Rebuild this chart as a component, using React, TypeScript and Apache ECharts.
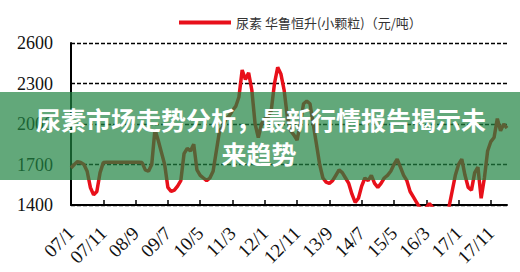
import React, { useEffect, useRef } from "react";
import * as echarts from "echarts";

const startYear = 2007;
const startMonth = 1;
const tickLabels = ["07/1", "07/11", "08/9", "09/7", "10/5", "11/3", "12/1", "12/11", "13/9", "14/7", "15/5", "16/3", "17/1", "17/11"];
const yTicks = [1400, 1700, 2000, 2300, 2600];
const seriesName = "尿素 华鲁恒升(小颗粒)（元/吨）";
const titleLine1 = "尿素市场走势分析，最新行情报告揭示未";
const titleLine2 = "来趋势";

// monthly price, 2007/1 .. 2018/4
const prices = [
  1674, 1700, 1721, 1715, 1700, 1650, 1530, 1475, 1500, 1640,
  1714, 1716, 1716, 1716, 1716, 1716, 1716, 1716, 1716, 1716,
  1716, 1716, 1714, 1660, 1650, 1700, 1960, 1880, 1790, 1700,
  1530, 1500, 1510, 1540, 1580, 1780, 1820, 1800, 1850, 1660,
  1620, 1600, 1580, 1600, 1650, 1800, 1950, 1980, 2040, 2060,
  2100, 2130, 2200, 2400, 2330, 2380, 2250, 2000, 1900, 2000,
  2040, 2050, 2100, 2300, 2420, 2370, 2250, 2050, 1950, 1920,
  1880, 2000, 2150, 2170, 2150, 2000, 1850, 1700, 1600, 1570,
  1560, 1580, 1620, 1660, 1640, 1600, 1560, 1480, 1420, 1450,
  1540, 1600, 1580, 1620, 1560, 1530, 1560, 1600, 1620, 1650,
  1700, 1740, 1680, 1620, 1580, 1500, 1460, 1420, 1380, 1360,
  1380, 1410, 1380, 1330, 1320, 1320, 1330, 1380, 1500, 1620,
  1700, 1740, 1620, 1530, 1510, 1640, 1680, 1450, 1600, 1800,
  1870, 1900, 2040, 1950, 2000, 1970,
];

const categories: string[] = prices.map((_, i) => {
  const m = startMonth - 1 + i;
  const y = startYear + Math.floor(m / 12);
  return `${String(y % 100).padStart(2, "0")}/${(m % 12) + 1}`;
});

const serif = "'Liberation Serif', 'Times New Roman', serif";

export default function App() {
  const ref = useRef<HTMLDivElement>(null);
  useEffect(() => {
    if (!ref.current) return;
    const chart = echarts.init(ref.current, undefined, { renderer: "svg" });
    const labelSet = new Set(tickLabels);
    chart.setOption({
      animation: false,
      backgroundColor: "#ffffff",
      legend: {
        data: [seriesName],
        left: 174,
        top: 11,
        icon: "rect",
        itemWidth: 52,
        itemHeight: 4,
        itemGap: 4,
        textStyle: { fontSize: 13, color: "#333", fontFamily: "Noto Sans CJK SC" },
      },
      grid: { left: 71, right: 13, top: 43, bottom: 67 },
      xAxis: {
        type: "category",
        data: categories,
        boundaryGap: false,
        axisLine: { lineStyle: { color: "#000", width: 2 } },
        axisTick: {
          inside: true,
          length: 5,
          interval: (i: number, v: string) => labelSet.has(v),
          lineStyle: { color: "#000", width: 1.5 },
        },
        axisLabel: {
          interval: (i: number, v: string) => labelSet.has(v),
          rotate: 45,
          margin: 25,
          fontSize: 19,
          color: "#111",
          fontFamily: serif,
        },
      },
      yAxis: {
        type: "value",
        min: yTicks[0],
        max: yTicks[yTicks.length - 1],
        interval: 300,
        axisLine: { show: true, lineStyle: { color: "#000", width: 2 } },
        axisTick: { show: false },
        axisLabel: {
          margin: 18,
          fontSize: 18,
          color: "#111",
          fontFamily: serif,
          formatter: (v: number) => String(v),
        },
        splitLine: { lineStyle: { color: "#000", type: [4, 2], width: 1.3 } },
      },
      series: [
        {
          name: seriesName,
          type: "line",
          data: prices,
          symbol: "none",
          color: "#e8101a",
          lineStyle: { color: "#e8101a", width: 3.5 },
          z: 3,
        },
      ],
      graphic: [
        {
          type: "rect",
          z: 100,
          shape: { x: 0, y: 92, width: 520, height: 88 },
          style: { fill: "rgba(31,131,65,0.7)" },
        },
        {
          type: "text",
          z: 101,
          x: 261,
          y: 119,
          style: {
            text: titleLine1,
            fill: "#ffffff",
            font: "bold 25px 'Noto Sans CJK SC'",
            textAlign: "center",
            textVerticalAlign: "middle",
          },
        },
        {
          type: "text",
          z: 101,
          x: 259,
          y: 153,
          style: {
            text: titleLine2,
            fill: "#ffffff",
            font: "bold 25px 'Noto Sans CJK SC'",
            textAlign: "center",
            textVerticalAlign: "middle",
          },
        },
      ],
    });
    return () => chart.dispose();
  }, []);
  return <div ref={ref} style={{ position: "fixed", left: 0, top: 0, width: 520, height: 272 }} />;
}
